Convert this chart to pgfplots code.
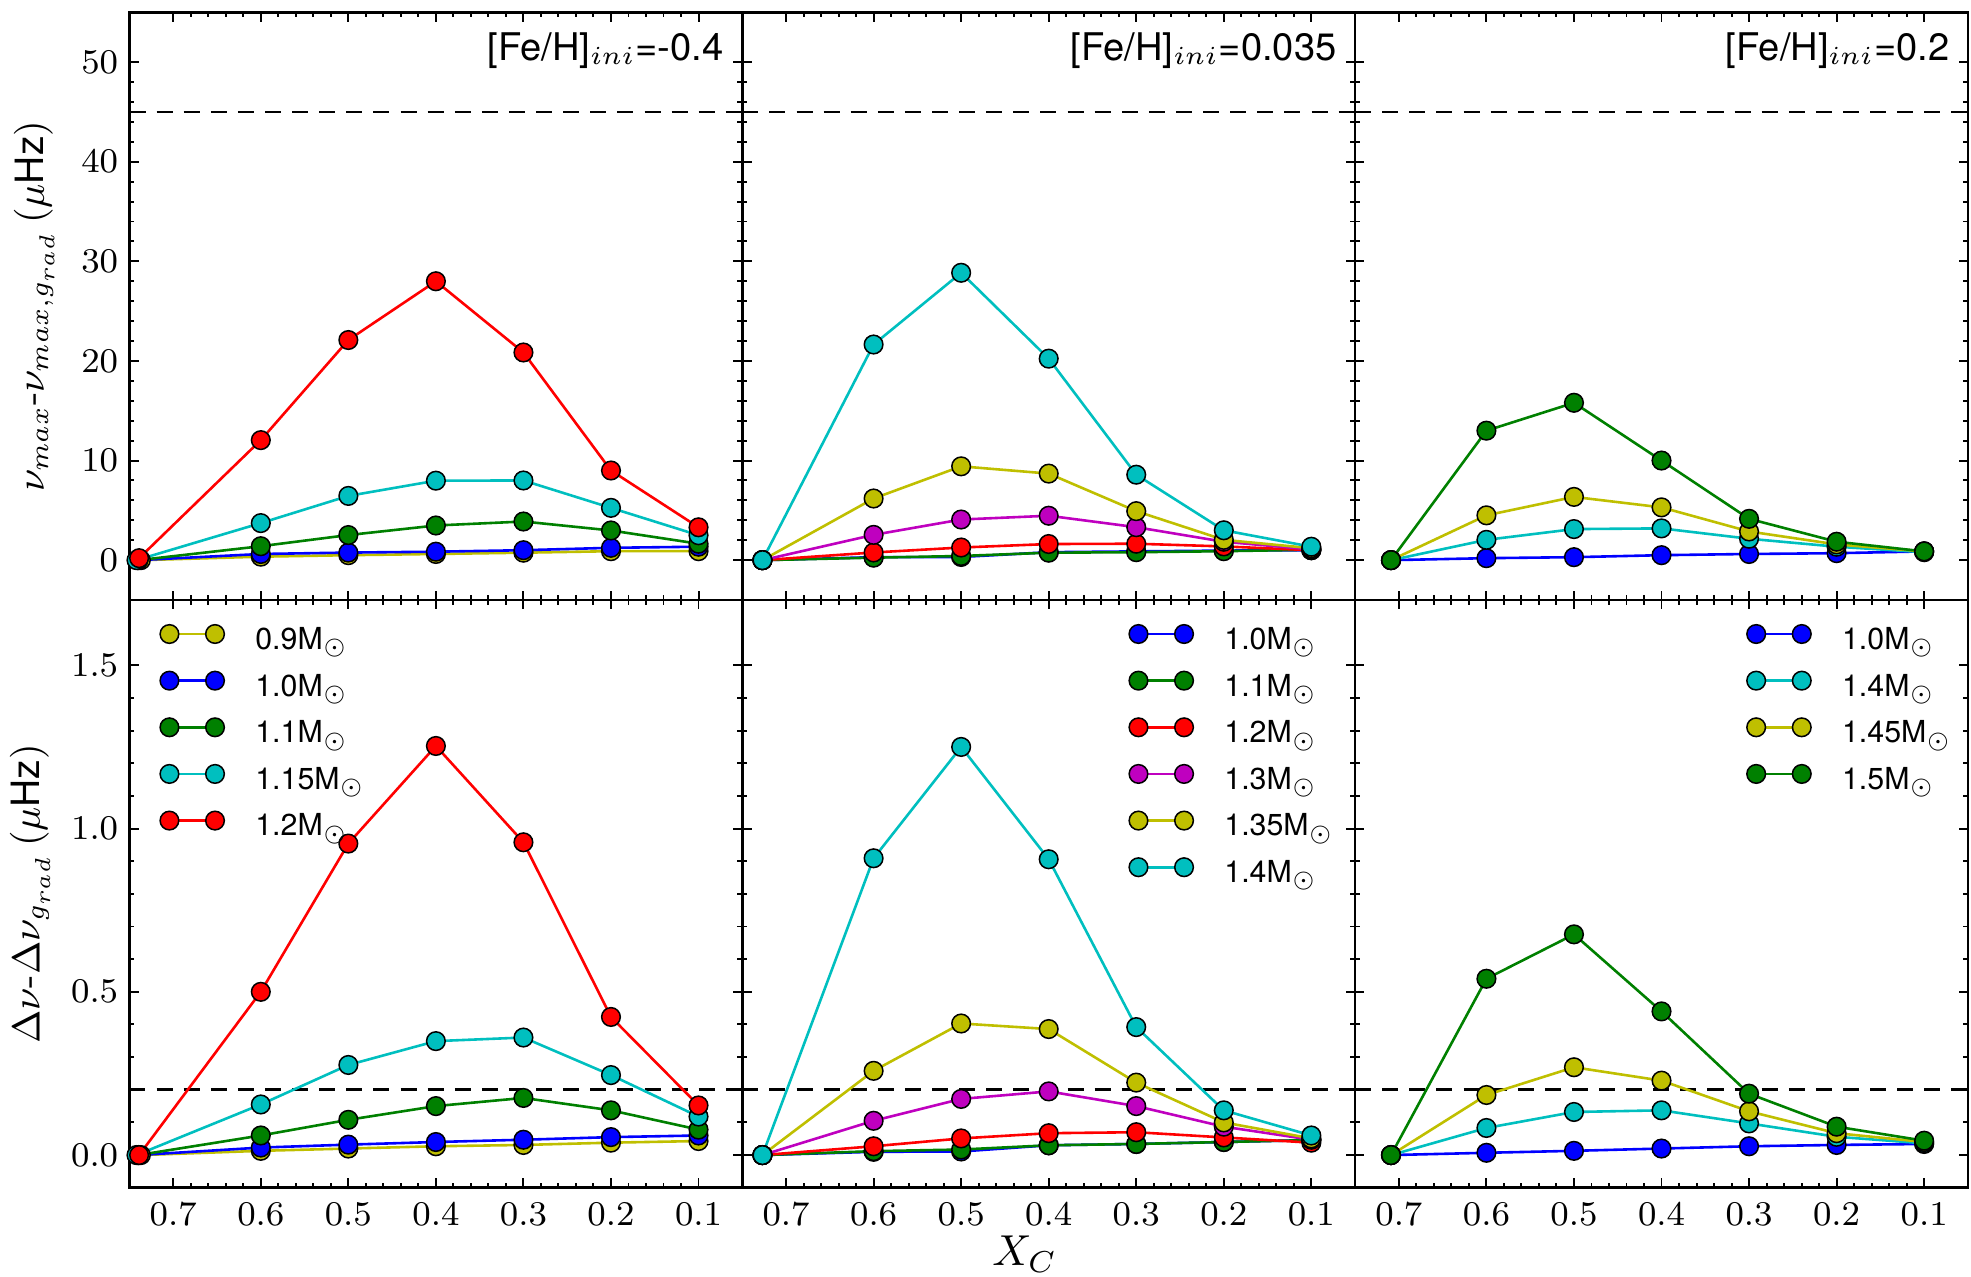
\documentclass[border=0pt]{standalone}
\usepackage{fontspec}
\setsansfont{TeX Gyre Heros}
\usepackage{pgfplots}
\pgfplotsset{compat=1.18}
\usepgfplotslibrary{groupplots}

\definecolor{mY}{rgb}{0.75,0.75,0}
\definecolor{mB}{rgb}{0,0,1}
\definecolor{mG}{rgb}{0,0.5,0}
\definecolor{mC}{rgb}{0,0.75,0.75}
\definecolor{mR}{rgb}{1,0,0}
\definecolor{mM}{rgb}{0.75,0,0.75}

\pgfplotsset{
  ser/.style={color=#1, line width=0.6pt, mark=*, mark size=2.15pt,
    mark options={draw=black, fill=#1, line width=0.35pt, solid}},
  refline/.style={black, line width=0.65pt, dash pattern=on 0.13cm off 0.09cm, forget plot},
  legend image code/.code={
    \draw[mark repeat=1,mark phase=1,#1] plot coordinates {(0cm,0.055cm) (0.37cm,0.055cm)};
    \path (0.687cm,0.055cm);},
  mylegend/.style={legend style={draw=none, fill=none, inner sep=0pt, outer sep=0pt,
    font=\sffamily\fontsize{7}{8.4}\selectfont, row sep=0.118cm,
    nodes={inner sep=0pt, text height=0.2cm, text depth=0.06cm}},
    legend cell align=left},
}
\tikzset{Mtitle/.style={anchor=base east, inner sep=0pt, font=\sffamily\fontsize{8.8}{10.5}\selectfont}}
\newcommand{\Ms}{M$_\odot$}

\begin{document}
\begin{tikzpicture}
\begin{groupplot}[
  group style={group name=G, group size=3 by 2, horizontal sep=0pt, vertical sep=0pt,
    xticklabels at=edge bottom, yticklabels at=edge left},
  width=4.974cm, height=4.77cm, scale only axis,
  x dir=reverse, xmin=0.05, xmax=0.75,
  xtick={0.1,0.2,0.3,0.4,0.5,0.6,0.7}, minor x tick num=4,
  xticklabel style={/pgf/number format/.cd, fixed, fixed zerofill, precision=1},
  yticklabel style={inner sep=0pt, xshift=-0.085cm},
  tick label style={font=\fontsize{8.2}{10}\selectfont},
  tick align=inside, tick pos=both,
  major tick length=0.075cm, minor tick length=0.04cm,
  every tick/.style={black, line width=0.45pt},
  axis line style={line width=0.6pt},
  label style={font=\fontsize{9}{11}\selectfont},
]
% ---------------- top row ----------------
\nextgroupplot[ymin=-4, ymax=55, ytick={0,10,20,30,40,50}, minor y tick num=4,
  ylabel={$\nu_{max}$-$\nu_{max,g_{rad}}$\,($\mu$\textsf{Hz})},
  ylabel style={at={(axis description cs:-0.155,0.5)}, anchor=center}]
\addplot[refline] coordinates {(0.75,45) (0.05,45)};
\addplot[ser=mY] coordinates {(0.737,0) (0.6,0.35) (0.5,0.5) (0.4,0.62) (0.3,0.75) (0.2,0.9) (0.1,0.9)};
\addplot[ser=mB] coordinates {(0.740,0) (0.6,0.62) (0.5,0.76) (0.4,0.85) (0.3,1.0) (0.2,1.24) (0.1,1.35)};
\addplot[ser=mG] coordinates {(0.740,0) (0.6,1.4) (0.5,2.52) (0.4,3.48) (0.3,3.88) (0.2,2.98) (0.1,1.65)};
\addplot[ser=mC] coordinates {(0.742,0) (0.6,3.72) (0.5,6.45) (0.4,7.98) (0.3,8.0) (0.2,5.25) (0.1,2.5)};
\addplot[ser=mR] coordinates {(0.739,0.2) (0.6,12.05) (0.5,22.1) (0.4,28.0) (0.3,20.85) (0.2,9.0) (0.1,3.3)};
\node[Mtitle] at (axis description cs:0.971,0.918) {[Fe/H]$_{ini}$=-0.4};

\nextgroupplot[ymin=-4, ymax=55, ytick={0,10,20,30,40,50}, minor y tick num=4]
\addplot[refline] coordinates {(0.75,45) (0.05,45)};
\addplot[ser=mB] coordinates {(0.727,0) (0.6,0.3) (0.5,0.32) (0.4,0.8) (0.3,0.88) (0.2,0.96) (0.1,1.0)};
\addplot[ser=mG] coordinates {(0.727,0) (0.6,0.25) (0.5,0.42) (0.4,0.75) (0.3,0.8) (0.2,0.9) (0.1,1.05)};
\addplot[ser=mR] coordinates {(0.727,0) (0.6,0.77) (0.5,1.27) (0.4,1.62) (0.3,1.65) (0.2,1.38) (0.1,1.0)};
\addplot[ser=mM] coordinates {(0.727,0) (0.6,2.54) (0.5,4.08) (0.4,4.46) (0.3,3.31) (0.2,1.85) (0.1,1.08)};
\addplot[ser=mY] coordinates {(0.727,0) (0.6,6.19) (0.5,9.42) (0.4,8.69) (0.3,4.92) (0.2,2.04) (0.1,1.2)};
\addplot[ser=mC] coordinates {(0.727,0) (0.6,21.65) (0.5,28.85) (0.4,20.23) (0.3,8.58) (0.2,3.0) (0.1,1.35)};
\node[Mtitle] at (axis description cs:0.971,0.918) {[Fe/H]$_{ini}$=0.035};

\nextgroupplot[ymin=-4, ymax=55, ytick={0,10,20,30,40,50}, minor y tick num=4]
\addplot[refline] coordinates {(0.75,45) (0.05,45)};
\addplot[ser=mB] coordinates {(0.709,0) (0.6,0.2) (0.5,0.3) (0.4,0.5) (0.3,0.62) (0.2,0.7) (0.1,0.88)};
\addplot[ser=mC] coordinates {(0.709,0) (0.6,2.04) (0.5,3.12) (0.4,3.19) (0.3,2.15) (0.2,1.35) (0.1,0.8)};
\addplot[ser=mY] coordinates {(0.709,0) (0.6,4.5) (0.5,6.35) (0.4,5.3) (0.3,2.88) (0.2,1.58) (0.1,0.88)};
\addplot[ser=mG] coordinates {(0.709,0) (0.6,13.0) (0.5,15.8) (0.4,10.0) (0.3,4.15) (0.2,1.85) (0.1,0.88)};
\node[Mtitle] at (axis description cs:0.971,0.918) {[Fe/H]$_{ini}$=0.2};

% ---------------- bottom row ----------------
\nextgroupplot[ymin=-0.1, ymax=1.7, ytick={0,0.5,1,1.5}, minor y tick num=4,
  yticklabel style={/pgf/number format/.cd, fixed, fixed zerofill, precision=1},
  ylabel={$\Delta\nu$-$\Delta\nu_{g_{rad}}$\,($\mu$\textsf{Hz})},
  ylabel style={at={(axis description cs:-0.162,0.5)}, anchor=center},
  mylegend, legend style={at={(axis description cs:0.05,0.958)}, anchor=north west}]
\addplot[refline] coordinates {(0.75,0.2) (0.05,0.2)};
\addplot[ser=mY] coordinates {(0.737,0) (0.6,0.013) (0.5,0.02) (0.4,0.027) (0.3,0.031) (0.2,0.038) (0.1,0.043)};
\addlegendentry{0.9\Ms}
\addplot[ser=mB] coordinates {(0.740,0) (0.6,0.023) (0.5,0.032) (0.4,0.040) (0.3,0.047) (0.2,0.055) (0.1,0.06)};
\addlegendentry{1.0\Ms}
\addplot[ser=mG] coordinates {(0.740,0) (0.6,0.06) (0.5,0.108) (0.4,0.150) (0.3,0.175) (0.2,0.137) (0.1,0.078)};
\addlegendentry{1.1\Ms}
\addplot[ser=mC] coordinates {(0.742,0) (0.6,0.155) (0.5,0.276) (0.4,0.349) (0.3,0.360) (0.2,0.245) (0.1,0.118)};
\addlegendentry{1.15\Ms}
\addplot[ser=mR] coordinates {(0.739,0) (0.6,0.50) (0.5,0.954) (0.4,1.253) (0.3,0.958) (0.2,0.423) (0.1,0.152)};
\addlegendentry{1.2\Ms}

\nextgroupplot[ymin=-0.1, ymax=1.7, ytick={0,0.5,1,1.5}, minor y tick num=4,
  xlabel={$X_C$},
  xlabel style={at={(axis description cs:0.461,-0.113)}, anchor=center, font=\fontsize{10}{12}\selectfont},
  mylegend, legend style={at={(axis description cs:0.966,0.958)}, anchor=north east}]
\addplot[refline] coordinates {(0.75,0.2) (0.05,0.2)};
\addplot[ser=mB] coordinates {(0.727,0) (0.6,0.01) (0.5,0.011) (0.4,0.03) (0.3,0.034) (0.2,0.04) (0.1,0.046)};
\addlegendentry{1.0\Ms}
\addplot[ser=mG] coordinates {(0.727,0) (0.6,0.012) (0.5,0.017) (0.4,0.03) (0.3,0.034) (0.2,0.04) (0.1,0.046)};
\addlegendentry{1.1\Ms}
\addplot[ser=mR] coordinates {(0.727,0) (0.6,0.027) (0.5,0.051) (0.4,0.067) (0.3,0.07) (0.2,0.054) (0.1,0.038)};
\addlegendentry{1.2\Ms}
\addplot[ser=mM] coordinates {(0.727,0) (0.6,0.105) (0.5,0.172) (0.4,0.195) (0.3,0.150) (0.2,0.087) (0.1,0.047)};
\addlegendentry{1.3\Ms}
\addplot[ser=mY] coordinates {(0.727,0) (0.6,0.258) (0.5,0.403) (0.4,0.386) (0.3,0.222) (0.2,0.10) (0.1,0.051)};
\addlegendentry{1.35\Ms}
\addplot[ser=mC] coordinates {(0.727,0) (0.6,0.909) (0.5,1.25) (0.4,0.906) (0.3,0.392) (0.2,0.137) (0.1,0.06)};
\addlegendentry{1.4\Ms}

\nextgroupplot[ymin=-0.1, ymax=1.7, ytick={0,0.5,1,1.5}, minor y tick num=4,
  mylegend, legend style={at={(axis description cs:0.974,0.958)}, anchor=north east}]
\addplot[refline] coordinates {(0.75,0.2) (0.05,0.2)};
\addplot[ser=mB] coordinates {(0.709,0) (0.6,0.007) (0.5,0.013) (0.4,0.02) (0.3,0.027) (0.2,0.031) (0.1,0.034)};
\addlegendentry{1.0\Ms}
\addplot[ser=mC] coordinates {(0.709,0) (0.6,0.083) (0.5,0.132) (0.4,0.137) (0.3,0.097) (0.2,0.056) (0.1,0.036)};
\addlegendentry{1.4\Ms}
\addplot[ser=mY] coordinates {(0.709,0) (0.6,0.184) (0.5,0.269) (0.4,0.228) (0.3,0.134) (0.2,0.067) (0.1,0.04)};
\addlegendentry{1.45\Ms}
\addplot[ser=mG] coordinates {(0.709,0) (0.6,0.54) (0.5,0.676) (0.4,0.44) (0.3,0.188) (0.2,0.087) (0.1,0.044)};
\addlegendentry{1.5\Ms}
\end{groupplot}
\pgfresetboundingbox
\path ([shift={(-1.051cm,-0.722cm)}]G c1r2.south west) rectangle ([shift={(0.025cm,0.10cm)}]G c3r1.north east);
\end{tikzpicture}
\end{document}
